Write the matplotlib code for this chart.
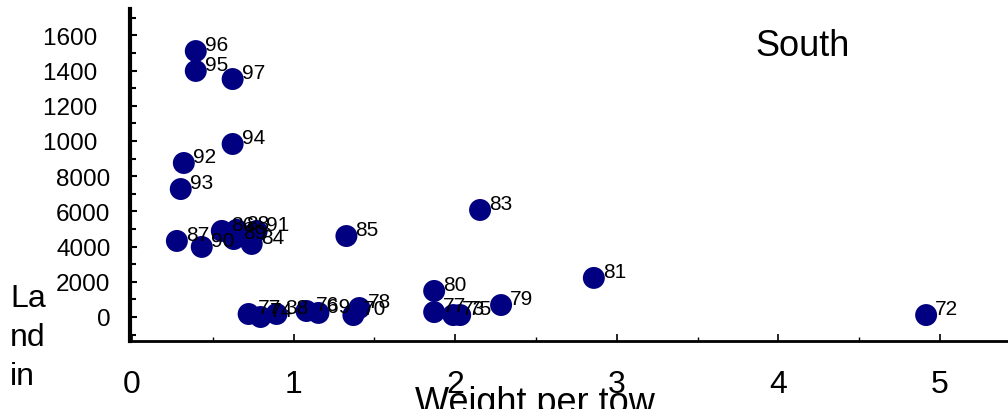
import matplotlib
matplotlib.use("Agg")
import matplotlib.pyplot as plt
from matplotlib.ticker import MultipleLocator

plt.rcParams["font.family"] = ["Liberation Sans", "DejaVu Sans"]

# data (x = weight per tow, y = landings)
labels = ["96", "95", "97", "94", "92", "93", "87", "90", "86", "88", "91",
          "89", "84", "85", "83", "77", "74", "38", "76", "69", "70", "78",
          "77", "73", "75", "80", "79", "81", "72"]
weight = [0.395, 0.395, 0.623, 0.623, 0.321, 0.302, 0.278, 0.432, 0.556, 0.648,
          0.772, 0.630, 0.741, 1.327, 2.154, 0.722, 0.796, 0.895, 1.080, 1.154,
          1.370, 1.407, 1.870, 1.988, 2.031, 1.870, 2.284, 2.858, 4.914]
landings = [15110, 13980, 13520, 9830, 8750, 7270, 4320, 3980, 4890, 4950,
            4890, 4430, 4150, 4600, 6080, 170, 0, 170, 340, 230,
            110, 510, 280, 110, 110, 1480, 680, 2220, 110]

ytick_vals = [0, 2000, 4000, 6000, 8000, 10000, 12000, 14000, 16000]
# the 5-digit labels lose their last digit in the original
ytick_text = ["0", "2000", "4000", "6000", "8000",
              "1000\u2007", "1200\u2007", "1400\u2007", "1600\u2007"]
xtick_vals = [0, 1, 2, 3, 4, 5]

NAVY = "#000080"

fig = plt.figure(figsize=(10.08, 4.10), dpi=100)
ax = fig.add_axes([130 / 1008, 68 / 410, 907 / 1008, 332 / 410])

ax.scatter(weight, landings, s=250, color=NAVY, edgecolors="none", zorder=3)
for lab, x, y in zip(labels, weight, landings):
    ax.annotate(lab, (x, y), xytext=(6.5, 4.5), textcoords="offset points",
                ha="left", va="center", fontsize=15, color="black", zorder=4)

ax.set_xlim(-0.012, 5.6)
ax.set_ylim(-1364, 17500)

ax.set_xticks(xtick_vals)
ax.set_xticklabels([str(v) for v in xtick_vals])
ax.xaxis.set_minor_locator(MultipleLocator(0.5))
ax.set_yticks(ytick_vals)
ax.set_yticklabels(ytick_text)
ax.yaxis.set_minor_locator(MultipleLocator(1000))

ax.tick_params(axis="x", which="both", direction="in", pad=20, labelsize=23)
ax.tick_params(axis="x", which="major", length=5, width=1.2)
ax.tick_params(axis="x", which="minor", length=3, width=1)
ax.tick_params(axis="y", which="both", direction="in", pad=14, labelsize=17.5)
ax.tick_params(axis="y", which="major", length=5, width=1.5)
ax.tick_params(axis="y", which="minor", length=4, width=1.5)

for side in ("top", "right"):
    ax.spines[side].set_visible(False)
ax.spines["left"].set_linewidth(3)
ax.spines["bottom"].set_linewidth(2)

ax.set_xlabel("Weight per tow", fontsize=26, va="baseline")
ax.xaxis.set_label_coords(0.446, -0.214)
ax.set_ylabel("La\nnd\nin", fontsize=23, rotation=0, ha="left", va="center",
              linespacing=1.38)
ax.yaxis.set_label_coords(-0.132, 0.012)

fig.text(755 / 1008, 1 - 47 / 410, "South", fontsize=26, ha="left", va="center")

fig.savefig("out.png", dpi=100)
